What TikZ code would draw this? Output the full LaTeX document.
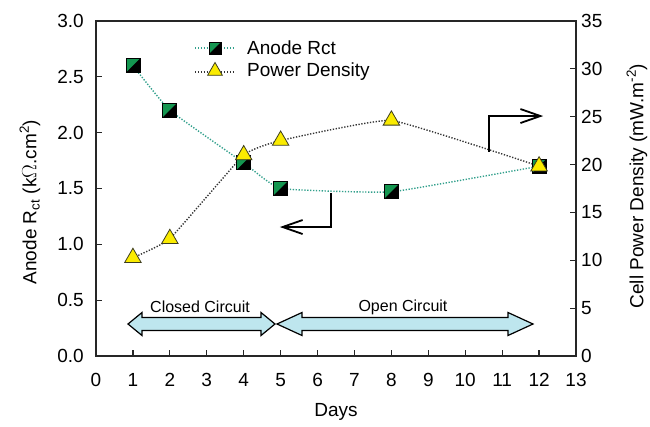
\documentclass[tikz,border=0pt]{standalone}
\usepackage{fontspec}
\setmainfont{Liberation Sans}
\usetikzlibrary{arrows.meta,shapes.geometric}
\definecolor{sqgreen}{RGB}{20,150,80}
\definecolor{trifill}{RGB}{250,235,0}
\definecolor{triedge}{RGB}{60,60,30}
\definecolor{rctcol}{RGB}{50,160,140}
\definecolor{blockfill}{RGB}{190,230,238}
\newcommand\blockarr[4]{%
  \draw[blockarrow] (#1,#4) -- (#1+#3,#4+11.5) -- (#1+#3,#4+6.5) -- (#2-#3,#4+6.5)
    -- (#2-#3,#4+11.5) -- (#2,#4) -- (#2-#3,#4-11.5) -- (#2-#3,#4-6.5)
    -- (#1+#3,#4-6.5) -- (#1+#3,#4-11.5) -- cycle;}
\begin{document}
\begin{tikzpicture}[x=1bp,y=1bp,
  ticklbl/.style={font=\fontsize{19bp}{22bp}\selectfont, inner sep=0pt},
  titlelbl/.style={font=\fontsize{19bp}{22bp}\selectfont, inner sep=0pt},
  leglbl/.style={font=\fontsize{19bp}{22bp}\selectfont, inner sep=0pt, anchor=west},
  boxlbl/.style={font=\fontsize{16bp}{19bp}\selectfont, inner sep=0pt},
  frame/.style={draw=black!85, line width=1.4bp},
  tickline/.style={draw=black!85, line width=1.2bp},
  sq/.style={draw=black, line width=0.8bp, fill=sqgreen, minimum size=14bp, inner sep=0pt,
    path picture={\fill[black] (path picture bounding box.north east) -- (path picture bounding box.south east) -- (path picture bounding box.south west) -- cycle;}},
  tri/.style={regular polygon, regular polygon sides=3, draw=triedge, fill=trifill, line width=0.8bp, minimum size=19bp, inner sep=0pt},
  rctline/.style={draw=rctcol, line width=1.4bp, dash pattern=on 1.3bp off 1.6bp},
  pwrline/.style={draw=black!80, line width=1.4bp, dash pattern=on 1.3bp off 1.6bp},
  blockarrow/.style={draw=black, fill=blockfill, line width=1.2bp, line join=miter},
  larrow/.style={draw=black, line width=1.8bp, -{Straight Barb[length=20bp,width=14bp]}}
]
\useasboundingbox (0,0) rectangle (650,426);

% frame
\draw[frame] (96,70) rectangle (576,405);
% x ticks and labels
\foreach \i in {1,...,12} \draw[tickline] ({96+\i*36.923},70) -- ++(0,6);
\foreach \i in {0,...,13} \node[ticklbl] (xl\i) at ({96+\i*36.923},46) {\i};
% left ticks and labels
\foreach \i in {1,...,5} \draw[tickline] (96,{70+\i*55.833}) -- ++(6,0);
\foreach \v/\l [count=\k] in {0/0.0,1/0.5,2/1.0,3/1.5,4/2.0,5/2.5,6/3.0}
  \node[ticklbl, anchor=east] (yl\k) at (84,{70+\v*55.833}) {\l};
% right ticks and labels
\foreach \i in {1,...,6} \draw[tickline] (576,{70+\i*47.857}) -- ++(-6,0);
\foreach \i [evaluate=\i as \lab using int(5*\i)] in {0,...,7}
  \node[ticklbl, anchor=west] (yr\i) at (581,{70+\i*47.857}) {\lab};

% axis titles
\node[titlelbl] (xtitle) at (336,14) {Days};
\node[titlelbl, rotate=90] (ltitle) at (30,224) {Anode R\textsubscript{ct} (k$\Omega$.cm\textsuperscript{2})};
\node[titlelbl, rotate=90] (rtitle) at (637,240) {Cell Power Density (mW.m\textsuperscript{-2})};

% block arrows
\blockarr{128}{275}{14}{102}
\blockarr{277}{533}{25}{102}
\node[boxlbl] (closed) at (200,119) {Closed Circuit};
\node[boxlbl] (open) at (403,119) {Open Circuit};

% data
\begin{scope}[shift={(96,70)}, x=36.923bp, y=111.667bp]
  \coordinate (r1) at (1,2.60);
  \coordinate (r2) at (2,2.20);
  \coordinate (r3) at (4,1.73);
  \coordinate (r4) at (5,1.50);
  \coordinate (r5) at (8,1.47);
  \coordinate (r6) at (12,1.70);
  \coordinate (p1) at (1,0.88);
  \coordinate (p2) at (2,1.05);
  \coordinate (p3) at (4,1.80);
  \coordinate (p4) at (5,1.93);
  \coordinate (p5) at (8,2.11);
  \coordinate (p6) at (12,1.70);
  \coordinate (a1s) at (6.37,1.46);
  \coordinate (a1e) at (4.98,1.155);
  \coordinate (a2s) at (10.64,1.827);
  \coordinate (a2e) at (12.11,2.149);
\end{scope}

\draw[rctline] plot[smooth, tension=0.2] coordinates {(r1) (r2) (r3) (r4) (r5) (r6)};
\draw[pwrline] plot[smooth, tension=0.2] coordinates {(p1) (p2) (p3) (p4) (p5) (p6)};

\draw[larrow] (a1s) |- (a1e);
\draw[larrow] (a2s) |- (a2e);

\foreach \n in {1,...,6} \node[sq] (R\n) at (r\n) {};
\foreach \n in {1,...,6} \node[tri] (P\n) at (p\n) {};

% legend
\coordinate (lg1a) at (195,378); \coordinate (lg1b) at (235,378);
\coordinate (lg2a) at (195,354); \coordinate (lg2b) at (235,354);
\draw[rctline] (lg1a) -- (lg1b);
\draw[pwrline] (lg2a) -- (lg2b);
\node[sq, minimum size=12bp] (LR) at (215,378) {};
\node[tri, minimum size=17bp] (LP) at (215,355) {};
\node[leglbl] (LRt) at (247,378) {Anode Rct};
\node[leglbl] (LPt) at (247,354) {Power Density};
\end{tikzpicture}
\end{document}
